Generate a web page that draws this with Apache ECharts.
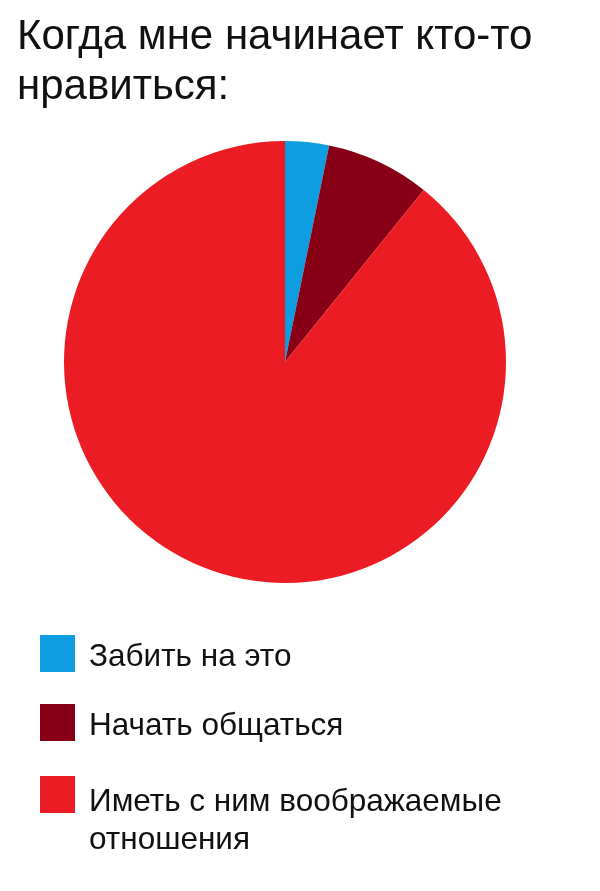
<!DOCTYPE html>
<html>
<head>
<meta charset="utf-8">
<script src="https://cdn.jsdelivr.net/npm/echarts@6/dist/echarts.min.js"></script>
<style>
html,body{margin:0;padding:0;background:#fff;}
#chart{width:600px;height:891px;}
</style>
</head>
<body>
<div id="chart"></div>
<script>
var titleText = 'Когда мне начинает кто-то\nнравиться:';
var categories = ['Забить на это', 'Начать общаться', 'Иметь с ним воображаемые отношения'];
var values = [3.2, 7.6, 89.2];
var colors = ['#0e9de1', '#870015', '#ec1c24'];

var FONT = '"Liberation Sans", Arial, sans-serif';
var chart = echarts.init(document.getElementById('chart'), null, {renderer: 'canvas'});

// square swatch drawn in the top of a taller invisible box so the text sits slightly lower
function swatch(h) {
  return 'path://M0,0L35,0L35,37L0,37Z M0,' + h + 'L0.01,' + h;
}

function makeLegend(i, top, h) {
  return {
    show: true,
    orient: 'vertical',
    left: 40,
    top: top,
    padding: 0,
    itemWidth: 35,
    itemHeight: h,
    icon: swatch(h),
    selectedMode: false,
    data: [categories[i]],
    formatter: function (name) {
      return name === categories[2] ? 'Иметь с ним воображаемые\nотношения' : name;
    },
    textStyle: {
      fontFamily: FONT,
      fontSize: 31.5,
      color: '#111',
      lineHeight: 38,
      padding: [0, 0, 0, 9]
    }
  };
}

chart.setOption({
  backgroundColor: '#ffffff',
  animation: false,
  title: {
    text: titleText,
    left: 17,
    top: 12,
    padding: 0,
    textStyle: {
      fontFamily: FONT,
      fontSize: 42,
      fontWeight: 'normal',
      color: '#111',
      lineHeight: 50
    }
  },
  legend: [
    makeLegend(0, 635, 44),
    makeLegend(1, 704, 44),
    makeLegend(2, 776, 91)
  ],
  series: [{
    type: 'pie',
    center: [285, 362],
    radius: 221,
    startAngle: 90,
    clockwise: true,
    label: {show: false},
    labelLine: {show: false},
    emphasis: {disabled: true},
    itemStyle: {borderWidth: 0},
    data: categories.map(function (c, i) {
      return {name: c, value: values[i], itemStyle: {color: colors[i]}};
    })
  }]
});
</script>
</body>
</html>
